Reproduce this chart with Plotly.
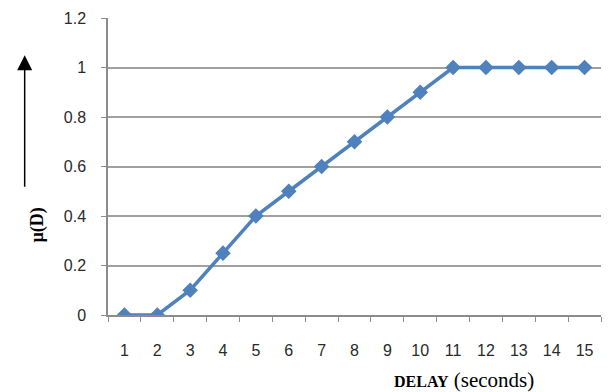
import plotly.graph_objects as go

categories = [str(i) for i in range(1, 16)]
mu_values = [0, 0, 0.1, 0.25, 0.4, 0.5, 0.6, 0.7, 0.8, 0.9, 1, 1, 1, 1, 1]
y_ticks = [0, 0.2, 0.4, 0.6, 0.8, 1, 1.2]
y_tick_labels = ["0", "0.2", "0.4", "0.6", "0.8", "1", "1.2"]

fig = go.Figure()
fig.add_trace(go.Scatter(
    x=categories, y=mu_values, mode="lines+markers",
    line=dict(color="#4F81BD", width=3.5),
    marker=dict(symbol="diamond", size=12, color="#4F81BD"),
    showlegend=False,
))

fig.update_layout(
    width=609, height=392,
    margin=dict(l=108, r=8, t=18, b=77),
    paper_bgcolor="white", plot_bgcolor="white",
    font=dict(family="Liberation Sans, Arial, sans-serif", size=16, color="#2a2a2a"),
    xaxis=dict(
        type="category", range=[-0.5, 14.5],
        showgrid=False, showline=True, linecolor="#8c8c8c", linewidth=1.5,
        ticks="outside", tickson="boundaries", ticklen=5, tickcolor="#8c8c8c",
        ticklabelstandoff=20, zeroline=False,
    ),
    yaxis=dict(
        range=[0, 1.2], tickvals=y_ticks, ticktext=y_tick_labels,
        showgrid=True, gridcolor="#a0a0a0", gridwidth=1.5,
        showline=True, linecolor="#8c8c8c", linewidth=1.5,
        ticks="outside", ticklen=5, tickcolor="#8c8c8c",
        ticklabelstandoff=12, zeroline=False,
    ),
)

# Up arrow
fig.add_annotation(
    x=-0.169, y=0.875, xref="paper", yref="paper",
    ax=0, ay=133, axref="pixel", ayref="pixel",
    showarrow=True, arrowhead=2, arrowsize=2, arrowwidth=1.5, arrowcolor="black",
    text="",
)
# Y label
fig.add_annotation(
    x=-0.169, y=0.236, xref="paper", yref="paper",
    text="<b>µ(D)</b>", showarrow=False, textangle=-90,
    font=dict(family="Liberation Serif, Times New Roman, serif", size=18, color="black"),
)
# X title
fig.add_annotation(
    x=0.576, y=-0.219, xref="paper", yref="paper", xanchor="left", yanchor="middle",
    text="<b><span style='font-size:16px'>DELAY</span></b> (seconds)", showarrow=False,
    font=dict(family="Liberation Serif, Times New Roman, serif", size=21, color="black"),
)

fig.write_html(
    "out.html",
    config={"displayModeBar": False},
    post_script="document.body.style.margin='0';document.body.style.padding='0';",
)
